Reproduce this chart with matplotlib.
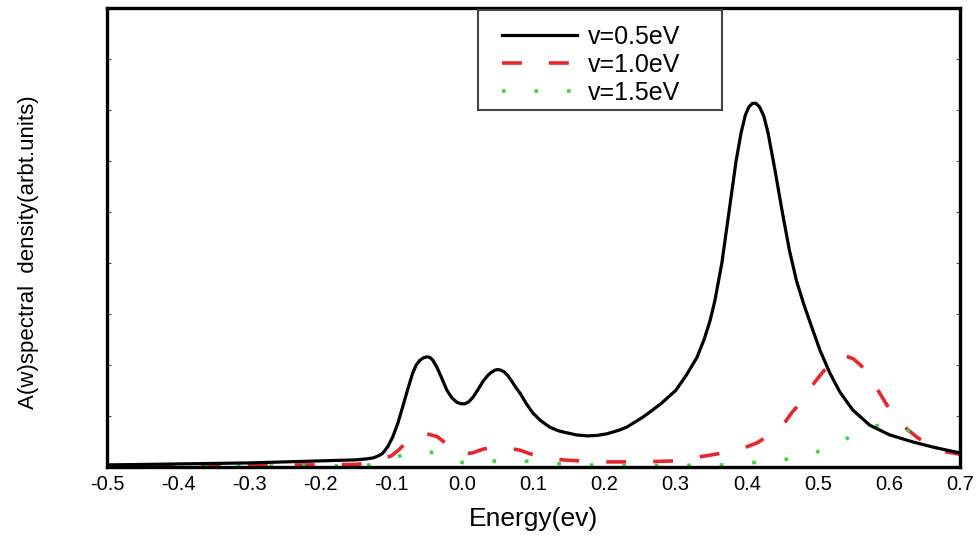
import matplotlib
matplotlib.use("Agg")
import matplotlib.pyplot as plt
from matplotlib.patches import Rectangle

plt.rcParams['font.family'] = ['Liberation Sans', 'DejaVu Sans']

# ---- data ----
x_v05 = [-0.50, -0.40, -0.30, -0.20, -0.15, -0.134, -0.125, -0.118, -0.112, -0.105,
         -0.098, -0.091, -0.084, -0.077, -0.070, -0.065, -0.060, -0.055, -0.050, -0.046,
         -0.042, -0.036, -0.029, -0.022, -0.015, -0.008, -0.002, 0.0035, 0.009, 0.015,
         0.022, 0.029, 0.036, 0.041, 0.046, 0.050, 0.054, 0.059, 0.064, 0.070,
         0.076, 0.081, 0.090, 0.099, 0.110, 0.123, 0.135, 0.147, 0.160, 0.175,
         0.190, 0.203, 0.220, 0.231, 0.245, 0.254, 0.264, 0.280, 0.300, 0.315,
         0.330, 0.340, 0.348, 0.355, 0.365, 0.375, 0.385, 0.392, 0.398, 0.403,
         0.408, 0.413, 0.418, 0.424, 0.430, 0.440, 0.450, 0.460, 0.470, 0.480,
         0.490, 0.503, 0.517, 0.531, 0.549, 0.573, 0.601, 0.634, 0.662, 0.695, 0.700]
y_v05 = [0.04, 0.06, 0.08, 0.12, 0.14, 0.16, 0.18, 0.22, 0.27, 0.40,
         0.59, 0.85, 1.18, 1.52, 1.84, 2.00, 2.09, 2.14, 2.16, 2.15,
         2.10, 1.96, 1.74, 1.51, 1.36, 1.27, 1.24, 1.24, 1.28, 1.37,
         1.52, 1.68, 1.80, 1.86, 1.90, 1.91, 1.90, 1.86, 1.79, 1.67,
         1.54, 1.45, 1.24, 1.06, 0.91, 0.78, 0.71, 0.67, 0.63, 0.61,
         0.62, 0.65, 0.72, 0.78, 0.90, 0.98, 1.08, 1.25, 1.50, 1.80,
         2.15, 2.50, 2.85, 3.25, 4.00, 5.00, 6.00, 6.55, 6.90, 7.06,
         7.13, 7.13, 7.06, 6.88, 6.55, 5.80, 5.00, 4.25, 3.65, 3.20,
         2.80, 2.29, 1.84, 1.47, 1.12, 0.82, 0.63, 0.49, 0.39, 0.29, 0.28]

x_v10 = [-0.50, -0.30, -0.15, -0.13, -0.115, -0.10, -0.09, -0.08, -0.065, -0.05,
         -0.036, -0.022, -0.01, 0.0, 0.015, 0.029, 0.043, 0.06, 0.081, 0.095,
         0.105, 0.14, 0.165, 0.20, 0.25, 0.30, 0.334, 0.352, 0.375, 0.395,
         0.414, 0.435, 0.451, 0.463, 0.475, 0.485, 0.496, 0.508, 0.520, 0.535,
         0.550, 0.560, 0.570, 0.580, 0.597, 0.608, 0.625, 0.639, 0.660, 0.680, 0.700]
y_v10 = [0.03, 0.03, 0.05, 0.08, 0.14, 0.22, 0.33, 0.47, 0.60, 0.65,
         0.60, 0.45, 0.30, 0.25, 0.28, 0.35, 0.39, 0.38, 0.33, 0.26,
         0.22, 0.14, 0.12, 0.10, 0.10, 0.12, 0.20, 0.24, 0.30, 0.37,
         0.47, 0.65, 0.82, 1.06, 1.25, 1.45, 1.67, 1.88, 2.04, 2.20,
         2.12, 2.00, 1.84, 1.61, 1.22, 0.98, 0.75, 0.59, 0.39, 0.30, 0.25]

x_v15 = [-0.50, -0.15, -0.12, -0.099, -0.08, -0.063, -0.045, -0.027, -0.01, 0.009,
         0.03, 0.047, 0.065, 0.084, 0.12, 0.15, 0.20, 0.30, 0.366, 0.403,
         0.441, 0.479, 0.514, 0.551, 0.575, 0.595, 0.605, 0.625, 0.660, 0.697, 0.700]
y_v15 = [0.02, 0.02, 0.05, 0.16, 0.26, 0.31, 0.29, 0.24, 0.12, 0.06,
         0.09, 0.12, 0.13, 0.12, 0.08, 0.05, 0.03, 0.03, 0.04, 0.08,
         0.12, 0.20, 0.37, 0.63, 0.78, 0.85, 0.83, 0.73, 0.41, 0.22, 0.21]

labels = ['v=0.5eV', 'v=1.0eV', 'v=1.5eV']
xticks = [-0.5, -0.4, -0.3, -0.2, -0.1, 0.0, 0.1, 0.2, 0.3, 0.4, 0.5, 0.6, 0.7]
xticklabels = ['-0.5', '-0.4', '-0.3', '-0.2', '-0.1', '0.0', '0.1', '0.2',
               '0.3', '0.4', '0.5', '0.6', '0.7']

# ---- figure ----
W, H = 980, 538
fig = plt.figure(figsize=(W / 100, H / 100), dpi=100)
ax = fig.add_axes([107 / W, 71 / H, 853 / W, 459 / H])

lw = 2.3
ax.plot(x_v05, y_v05, color='black', lw=lw, solid_joinstyle='round', label=labels[0], zorder=3)
ax.plot(x_v10, y_v10, color='#e8262e', lw=lw + 0.3, dashes=(5.5, 7.5), label=labels[1], zorder=2)
ax.plot(x_v15, y_v15, color='#3ed43e', lw=lw + 0.3, dashes=(1, 8), label=labels[2], zorder=2)

ax.set_xlim(-0.5, 0.7)
ax.set_ylim(0, 9)
ax.set_xticks(xticks)
ax.set_xticklabels(xticklabels, fontsize=14.5)
ax.set_yticks(range(0, 10))
ax.set_yticklabels([])
ax.tick_params(axis='y', direction='in', length=3, width=0.8, left=True, right=True, color='#555555')
ax.tick_params(axis='x', length=0, pad=6)

for s in ax.spines.values():
    s.set_linewidth(2.4)
    s.set_color('black')

ax.set_xlabel('Energy(ev)', fontsize=19, labelpad=9)
ax.set_ylabel('A(w)spectral  density(arbt.units)', fontsize=16)
ax.yaxis.set_label_coords((39 - 107) / 853, (467 - 252) / 459)

# legend box drawn in figure pixels, entries placed inside it
box = Rectangle((478 / W, 1 - 110 / H), 244 / W, 100 / H,
                transform=fig.transFigure, facecolor='white',
                edgecolor='#444444', linewidth=1.5, zorder=5, clip_on=False)
ax.add_patch(box)
leg = ax.legend(loc='upper left', bbox_to_anchor=(502 / W, 1 - 25 / H),
                bbox_transform=fig.transFigure, fontsize=18,
                handlelength=3.0, handletextpad=0.42, labelspacing=0.16,
                borderpad=0, borderaxespad=0, frameon=False)
leg.set_zorder(6)

fig.savefig('out.png', dpi=100)
